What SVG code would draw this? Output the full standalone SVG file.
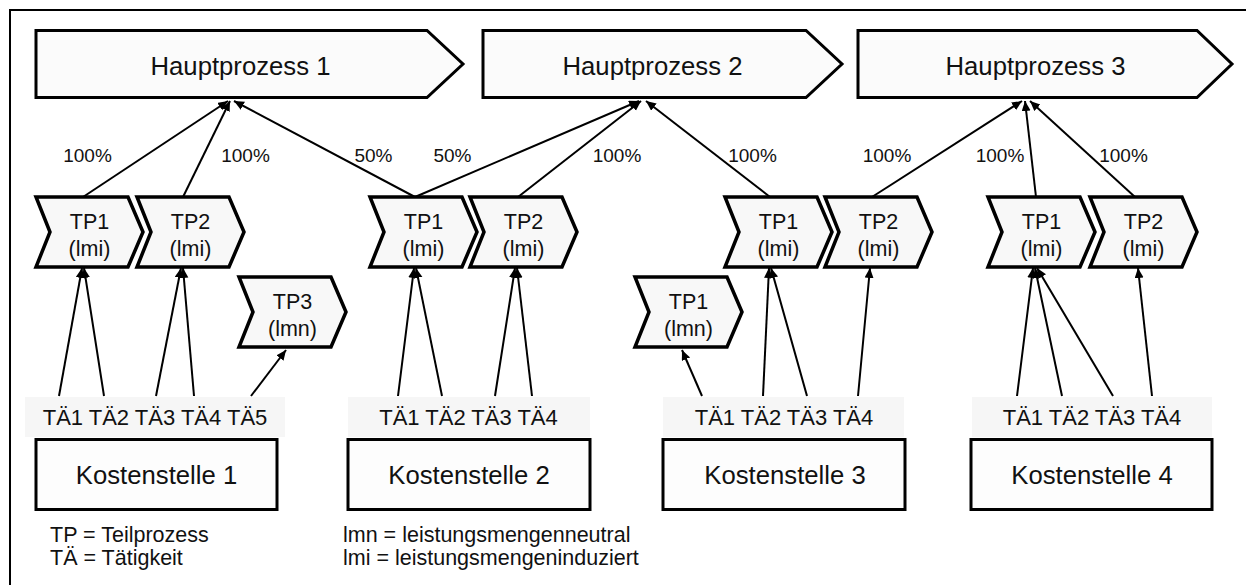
<svg xmlns="http://www.w3.org/2000/svg" width="1246" height="585" viewBox="0 0 1246 585">
  <defs>
    <marker id="arrow" markerUnits="userSpaceOnUse" markerWidth="12" markerHeight="10" refX="10" refY="4.5" orient="auto">
      <path d="M0,0 L10,4.5 L0,9 Z" fill="#000"/>
    </marker>
    <path id="tp" d="M0,0 H92 L107,35 L92,70 H0 L14,35 Z"/>
  </defs>
  <style>
    text { font-family: "Liberation Sans", Arial, sans-serif; fill: #111; text-anchor: middle; }
    .hp { fill: #fbfbfb; stroke: #000; stroke-width: 3; stroke-linejoin: miter; }
    .tp use { fill: #f8f8f8; stroke: #000; stroke-width: 3.5; stroke-linejoin: miter; }
    .ks { fill: #fdfdfd; stroke: #000; stroke-width: 3; }
    .strip { fill: #f6f6f6; }
    .big { font-size: 25.7px; }
    .tpt { font-size: 21.5px; }
    .ta { font-size: 22px; }
    .pct { font-size: 19px; }
    .leg { font-size: 21.5px; text-anchor: start; }
    .conn line { stroke: #000; stroke-width: 2; marker-end: url(#arrow); }
  </style>

  <rect x="0" y="0" width="1246" height="585" fill="#fff"/>
  <!-- outer frame -->
  <rect x="10" y="10" width="1250" height="590" fill="none" stroke="#000" stroke-width="2"/>

  <!-- main processes -->
  <g id="hp1">
    <path class="hp" d="M36,30.5 H427 L463,64 L427,97.5 H36 Z"/>
    <text class="big" x="240.5" y="75">Hauptprozess 1</text>
  </g>
  <g id="hp2">
    <path class="hp" d="M483,30.5 H806 L842,64 L806,97.5 H483 Z"/>
    <text class="big" x="652.5" y="75">Hauptprozess 2</text>
  </g>
  <g id="hp3">
    <path class="hp" d="M858,30.5 H1197 L1232,64 L1197,97.5 H858 Z"/>
    <text class="big" x="1035.5" y="75">Hauptprozess 3</text>
  </g>

  <!-- activity label strips -->
  <g id="strips">
    <rect class="strip" x="25" y="397" width="260" height="40"/>
    <rect class="strip" x="348" y="397" width="242" height="40"/>
    <rect class="strip" x="663" y="397" width="241" height="40"/>
    <rect class="strip" x="972" y="397" width="240" height="40"/>
  </g>

  <!-- sub-processes -->
  <g id="ks1-tp1" class="tp">
    <use href="#tp" x="36" y="197"/>
    <text class="tpt" x="89.5" y="229">TP1</text>
    <text class="tpt" x="89.5" y="256">(lmi)</text>
  </g>
  <g id="ks1-tp2" class="tp">
    <use href="#tp" x="137" y="197"/>
    <text class="tpt" x="190.5" y="229">TP2</text>
    <text class="tpt" x="190.5" y="256">(lmi)</text>
  </g>
  <g id="ks1-tp3" class="tp">
    <use href="#tp" x="239" y="277"/>
    <text class="tpt" x="292.5" y="309">TP3</text>
    <text class="tpt" x="292.5" y="336">(lmn)</text>
  </g>
  <g id="ks2-tp1" class="tp">
    <use href="#tp" x="370" y="197"/>
    <text class="tpt" x="423.5" y="229">TP1</text>
    <text class="tpt" x="423.5" y="256">(lmi)</text>
  </g>
  <g id="ks2-tp2" class="tp">
    <use href="#tp" x="470" y="197"/>
    <text class="tpt" x="523.5" y="229">TP2</text>
    <text class="tpt" x="523.5" y="256">(lmi)</text>
  </g>
  <g id="ks3-tp1n" class="tp">
    <use href="#tp" x="635" y="277"/>
    <text class="tpt" x="688.5" y="309">TP1</text>
    <text class="tpt" x="688.5" y="336">(lmn)</text>
  </g>
  <g id="ks3-tp1" class="tp">
    <use href="#tp" x="725" y="197"/>
    <text class="tpt" x="778.5" y="229">TP1</text>
    <text class="tpt" x="778.5" y="256">(lmi)</text>
  </g>
  <g id="ks3-tp2" class="tp">
    <use href="#tp" x="825" y="197"/>
    <text class="tpt" x="878.5" y="229">TP2</text>
    <text class="tpt" x="878.5" y="256">(lmi)</text>
  </g>
  <g id="ks4-tp1" class="tp">
    <use href="#tp" x="988" y="197"/>
    <text class="tpt" x="1041.5" y="229">TP1</text>
    <text class="tpt" x="1041.5" y="256">(lmi)</text>
  </g>
  <g id="ks4-tp2" class="tp">
    <use href="#tp" x="1090" y="197"/>
    <text class="tpt" x="1143.5" y="229">TP2</text>
    <text class="tpt" x="1143.5" y="256">(lmi)</text>
  </g>

  <!-- cost centres with their activities -->
  <g id="ks1">
    <text class="ta" x="155" y="425">TÄ1 TÄ2 TÄ3 TÄ4 TÄ5</text>
    <rect class="ks" x="36" y="439.5" width="241" height="70"/>
    <text class="big" x="156.5" y="484">Kostenstelle 1</text>
  </g>
  <g id="ks2">
    <text class="ta" x="468.5" y="425">TÄ1 TÄ2 TÄ3 TÄ4</text>
    <rect class="ks" x="348" y="439.5" width="242" height="70"/>
    <text class="big" x="469" y="484">Kostenstelle 2</text>
  </g>
  <g id="ks3">
    <text class="ta" x="784" y="425">TÄ1 TÄ2 TÄ3 TÄ4</text>
    <rect class="ks" x="663" y="439.5" width="242" height="70"/>
    <text class="big" x="785" y="484">Kostenstelle 3</text>
  </g>
  <g id="ks4">
    <text class="ta" x="1092" y="425">TÄ1 TÄ2 TÄ3 TÄ4</text>
    <rect class="ks" x="971" y="439.5" width="241" height="70"/>
    <text class="big" x="1092" y="484">Kostenstelle 4</text>
  </g>

  <!-- connectors -->
  <g id="connectors" class="conn">
    <!-- sub-process to main process -->
    <line x1="83" y1="197" x2="228" y2="101"/>
    <line x1="183" y1="197" x2="230" y2="101"/>
    <line x1="415" y1="197" x2="234" y2="101"/>
    <line x1="415" y1="197" x2="639" y2="101"/>
    <line x1="518" y1="197" x2="641" y2="101"/>
    <line x1="770" y1="197" x2="646" y2="101"/>
    <line x1="872" y1="197" x2="1022" y2="101"/>
    <line x1="1036" y1="197" x2="1025" y2="101"/>
    <line x1="1135" y1="197" x2="1030" y2="101"/>
    <!-- activity to sub-process -->
    <line x1="59" y1="396" x2="82" y2="268"/>
    <line x1="104" y1="396" x2="84" y2="268"/>
    <line x1="156" y1="396" x2="181" y2="268"/>
    <line x1="194" y1="396" x2="183" y2="268"/>
    <line x1="251" y1="396" x2="286" y2="350"/>
    <line x1="398" y1="396" x2="414" y2="268"/>
    <line x1="442" y1="396" x2="416" y2="268"/>
    <line x1="495" y1="396" x2="515" y2="268"/>
    <line x1="532" y1="396" x2="517" y2="268"/>
    <line x1="702" y1="396" x2="682" y2="350"/>
    <line x1="763" y1="396" x2="769" y2="268"/>
    <line x1="807" y1="396" x2="771" y2="268"/>
    <line x1="858" y1="396" x2="870" y2="268"/>
    <line x1="1017" y1="396" x2="1033" y2="268"/>
    <line x1="1062" y1="396" x2="1035" y2="268"/>
    <line x1="1113" y1="396" x2="1037" y2="268"/>
    <line x1="1152" y1="396" x2="1138" y2="268"/>
  </g>

  <!-- allocation shares -->
  <g id="shares">
    <text class="pct" x="87.5" y="162">100%</text>
    <text class="pct" x="245.5" y="162">100%</text>
    <text class="pct" x="373.5" y="162">50%</text>
    <text class="pct" x="452.5" y="162">50%</text>
    <text class="pct" x="617" y="162">100%</text>
    <text class="pct" x="752.5" y="162">100%</text>
    <text class="pct" x="887" y="162">100%</text>
    <text class="pct" x="1000" y="162">100%</text>
    <text class="pct" x="1123.5" y="162">100%</text>
  </g>

  <!-- legend -->
  <g id="legend">
    <text class="leg" x="50" y="542">TP = Teilprozess</text>
    <text class="leg" x="50" y="565">TÄ = Tätigkeit</text>
    <text class="leg" x="343" y="542">lmn = leistungsmengenneutral</text>
    <text class="leg" x="343" y="565">lmi = leistungsmengeninduziert</text>
  </g>
</svg>
